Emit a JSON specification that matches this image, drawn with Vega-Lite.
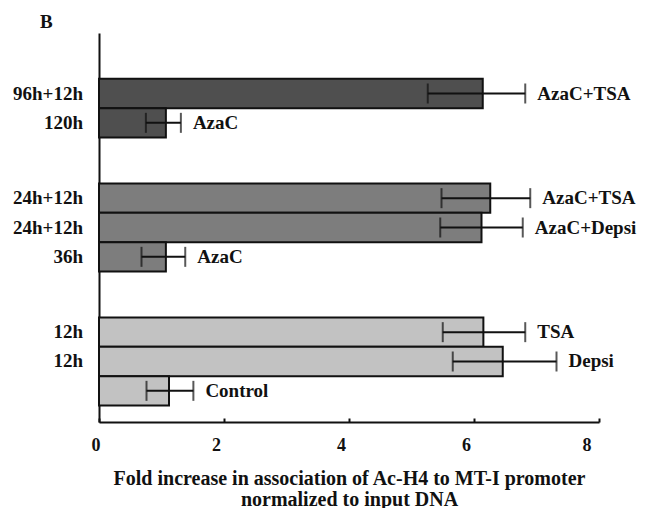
{
  "$schema": "https://vega.github.io/schema/vega-lite/v6.json",
  "autosize": {"type": "none"},
  "padding": {"left": 99, "top": 33, "right": 47, "bottom": 86},
  "width": 500,
  "height": 389,
  "background": "white",
  "config": {
    "view": {"stroke": null},
    "font": "Liberation Serif",
    "text": {"font": "Liberation Serif", "fontWeight": "bold", "fontSize": 19, "color": "#111"}
  },
  "title": {"text": "B", "anchor": "start", "frame": "group", "dx": -59, "offset": 1, "fontSize": 19, "font": "Liberation Serif", "fontWeight": "bold", "color": "#111"},
  "data": {
    "values": [
      {"group": "AzaC 120h", "rank": 2, "time": "96h+12h", "treatment": "AzaC+TSA", "value": 6.14, "lo": 5.26, "hi": 6.82},
      {"group": "AzaC 120h", "rank": 1, "time": "120h", "treatment": "AzaC", "value": 1.07, "lo": 0.75, "hi": 1.31},
      {"group": "AzaC 36h", "rank": 3, "time": "24h+12h", "treatment": "AzaC+TSA", "value": 6.26, "lo": 5.48, "hi": 6.90},
      {"group": "AzaC 36h", "rank": 2, "time": "24h+12h", "treatment": "AzaC+Depsi", "value": 6.12, "lo": 5.46, "hi": 6.78},
      {"group": "AzaC 36h", "rank": 1, "time": "36h", "treatment": "AzaC", "value": 1.07, "lo": 0.68, "hi": 1.38},
      {"group": "HDACi 12h", "rank": 3, "time": "12h", "treatment": "TSA", "value": 6.15, "lo": 5.50, "hi": 6.82},
      {"group": "HDACi 12h", "rank": 2, "time": "12h", "treatment": "Depsi", "value": 6.46, "lo": 5.66, "hi": 7.32},
      {"group": "HDACi 12h", "rank": 1, "time": "", "treatment": "Control", "value": 1.12, "lo": 0.76, "hi": 1.51}
    ]
  },
  "encoding": {
    "y": {
      "field": "group", "type": "nominal",
      "sort": ["AzaC 120h", "AzaC 36h", "HDACi 12h"],
      "scale": {"paddingInner": 0.343, "paddingOuter": 0.123},
      "axis": {"labels": false, "ticks": false, "title": null, "domainColor": "#111", "domainWidth": 2}
    },
    "yOffset": {"field": "rank", "type": "ordinal", "sort": "descending", "scale": {"paddingInner": 0, "paddingOuter": 0}}
  },
  "layer": [
    {
      "mark": {"type": "bar", "stroke": "#111", "strokeWidth": 2},
      "encoding": {
        "x": {
          "field": "value", "type": "quantitative",
          "scale": {"domain": [0, 8], "nice": false, "zero": true},
          "axis": {
            "values": [0, 2, 4, 6, 8], "grid": false, "format": "d",
            "domainColor": "#111", "domainWidth": 2,
            "tickColor": "#111", "tickWidth": 2, "tickSize": -4,
            "labelFont": "Liberation Serif", "labelFontWeight": "bold", "labelFontSize": 18, "labelColor": "#111", "labelPadding": 18, "labelOffset": -8,
            "title": ["Fold increase in association of Ac-H4 to MT-I promoter", "normalized to input DNA"],
            "titleFont": "Liberation Serif", "titleFontWeight": "bold", "titleFontSize": 20, "titleColor": "#111", "titlePadding": 14, "titleLineHeight": 21
          }
        },
        "fill": {
          "field": "group", "type": "nominal",
          "scale": {"domain": ["AzaC 120h", "AzaC 36h", "HDACi 12h"], "range": ["#4f4f4f", "#7d7d7d", "#c2c2c2"]},
          "legend": null
        }
      }
    },
    {
      "mark": {"type": "rule", "color": "#111", "strokeWidth": 2},
      "encoding": {
        "x": {"field": "lo", "type": "quantitative"},
        "x2": {"field": "hi"}
      }
    },
    {
      "mark": {"type": "tick", "color": "#111", "thickness": 2, "size": 20, "orient": "vertical"},
      "encoding": {"x": {"field": "lo", "type": "quantitative"}}
    },
    {
      "mark": {"type": "tick", "color": "#111", "thickness": 2, "size": 20, "orient": "vertical"},
      "encoding": {"x": {"field": "hi", "type": "quantitative"}}
    },
    {
      "mark": {"type": "text", "align": "left", "baseline": "middle", "dx": 12},
      "encoding": {"x": {"field": "hi", "type": "quantitative"}, "text": {"field": "treatment"}}
    },
    {
      "mark": {"type": "text", "align": "right", "baseline": "middle", "dx": -16},
      "encoding": {"x": {"datum": 0, "type": "quantitative"}, "text": {"field": "time"}}
    }
  ]
}
